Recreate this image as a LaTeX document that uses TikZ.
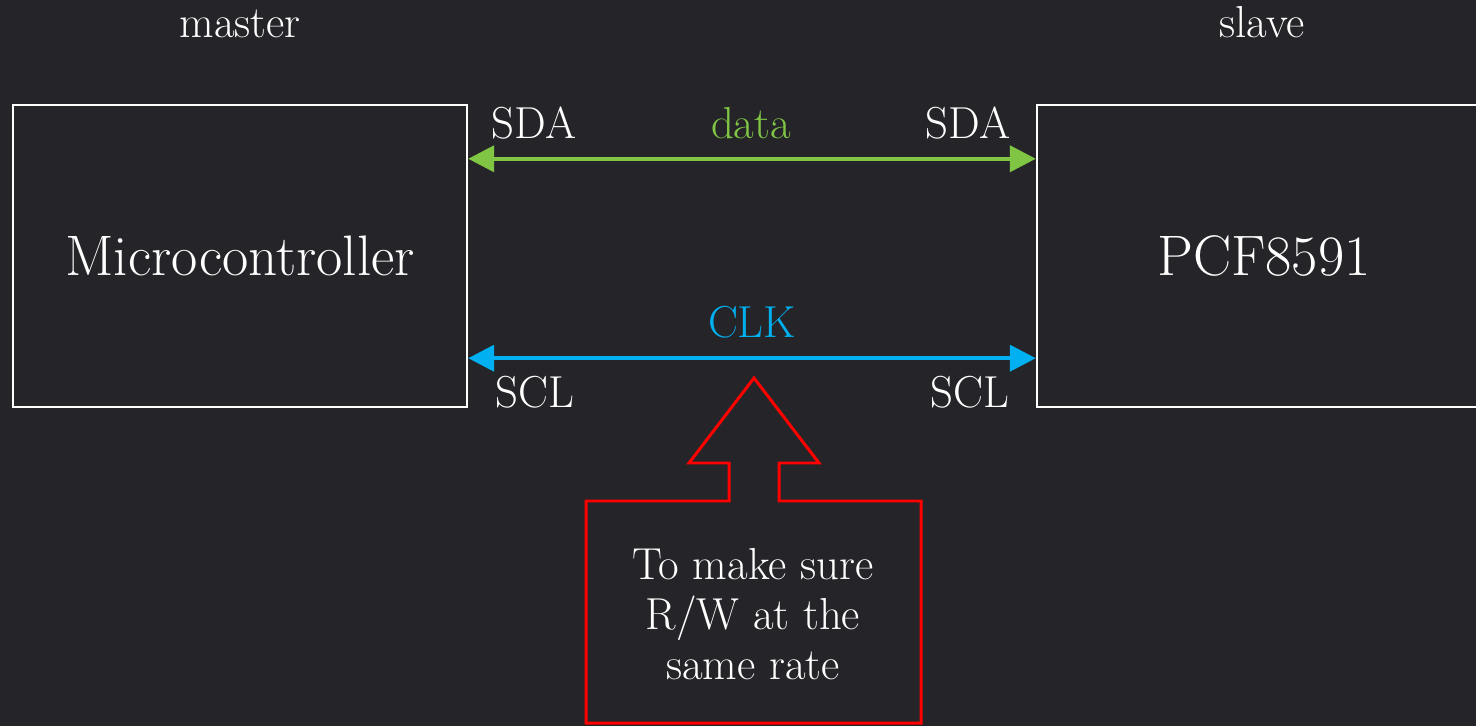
\documentclass[tikz,border=0pt]{standalone}
\usepackage{tikz}
\usetikzlibrary{arrows.meta,positioning,calc}
\definecolor{bgdark}{RGB}{37,37,41}
\definecolor{datagreen}{RGB}{128,198,68}
\definecolor{clkblue}{RGB}{0,176,240}
\definecolor{notered}{RGB}{255,0,0}
\tikzset{
  chip/.style={draw=white, line width=1.4pt, minimum width=9.08cm, minimum height=6.04cm, inner sep=0pt, text=white, font=\fontsize{32.5}{38}\selectfont},
  lbl/.style={text=white, anchor=base, inner sep=0pt, font=\fontsize{25.5}{30}\selectfont},
  bus/.style={{Triangle[length=0.52cm,width=0.52cm]}-{Triangle[length=0.52cm,width=0.52cm]}, line width=2.3pt}
}

\begin{document}
\begin{tikzpicture}[x=0.02cm,y=-0.02cm]
\clip (0,0) rectangle (1476,726);
\fill[bgdark] (0,0) rectangle (1476,726);
\node[chip] (mcu) at (240,256) {Microcontroller};
\node[chip] (pcf) at (1264,256) {PCF8591};
\node[lbl] (master) at (240,38) {master};
\node[lbl] (slave) at (1262,38) {slave};
\node[lbl] (sda1) at (534,139) {SDA};
\node[lbl] (sda2) at (968,139) {SDA};
\node[lbl, text=datagreen] (data) at (751,139) {data};
\node[lbl, text=clkblue] (clk) at (752,337) {CLK};
\node[lbl] (scl1) at (535,407) {SCL};
\node[lbl] (scl2) at (970,407) {SCL};
\draw[bus, datagreen] ([yshift=-1.1cm]mcu.north east) -- ([yshift=-1.1cm]pcf.north west);
\draw[bus, clkblue] ([yshift=1cm]mcu.south east) -- ([yshift=1cm]pcf.south west);
\node[lbl, anchor=center, align=center, font=\fontsize{25.5}{28.45}\selectfont] (note) at (753,614) {To make sure\\R/W at the\\same rate};
\draw[notered, line width=1.7pt] (586,723) -- (586,501) -- (729,501) -- (729,463) -- (689,463) -- (754,378)
  -- (819,463) -- (779,463) -- (779,501) -- (921,501) -- (921,723) -- cycle;
\end{tikzpicture}
\end{document}
